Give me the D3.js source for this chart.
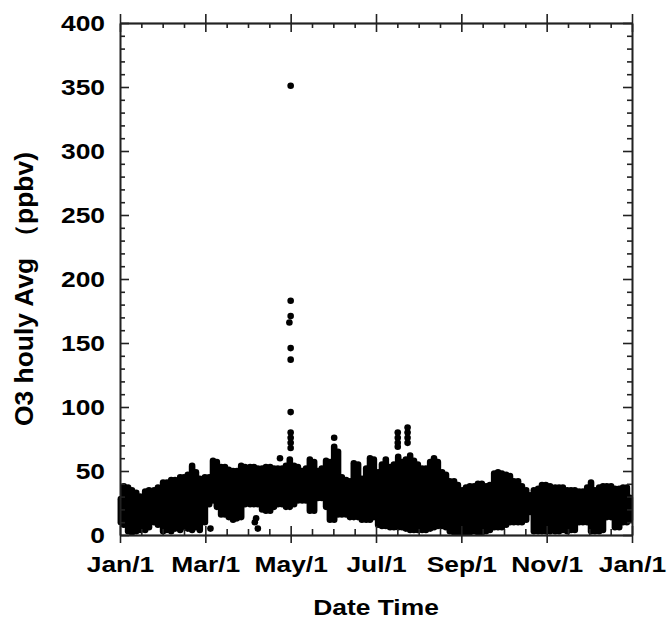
<!DOCTYPE html>
<html lang="en">
<head>
<meta charset="utf-8">
<title>O3 hourly</title>
<script src="https://d3js.org/d3.v7.min.js"></script>
<style>
  body { margin: 0; background: #fff; }
  svg text { font-family: "Liberation Sans", Arial, sans-serif; font-weight: bold; fill: #000; }
</style>
</head>
<body>
<script>
// month position (0 = Jan/1, 12 = next Jan/1) of each column of hourly points
const monthPos = [0.02, 0.09, 0.19, 0.28, 0.38, 0.47, 0.59, 0.68, 0.80, 0.89,
  1.01, 1.10, 1.20, 1.29, 1.41, 1.50, 1.59, 1.69, 1.78, 1.87,
  1.99, 2.09, 2.18, 2.27, 2.37, 2.46, 2.55, 2.65, 2.74, 2.84,
  2.93, 3.05, 3.14, 3.23, 3.33, 3.42, 3.52, 3.61, 3.70, 3.80,
  3.89, 3.98, 4.08, 4.17, 4.27, 4.36, 4.45, 4.55, 4.64, 4.73,
  4.83, 4.92, 5.02, 5.11, 5.20, 5.30, 5.39, 5.48, 5.58, 5.67,
  5.77, 5.86, 5.95, 6.05, 6.14, 6.23, 6.33, 6.42, 6.52, 6.61,
  6.70, 6.80, 6.89, 6.98, 7.08, 7.17, 7.27, 7.36, 7.45, 7.55,
  7.64, 7.73, 7.83, 7.92, 8.02, 8.11, 8.20, 8.30, 8.39, 8.48,
  8.58, 8.67, 8.77, 8.86, 8.95, 9.05, 9.14, 9.23, 9.33, 9.42,
  9.52, 9.61, 9.70, 9.80, 9.89, 9.98, 10.08, 10.20, 10.29, 10.38,
  10.48, 10.57, 10.66, 10.76, 10.85, 10.95, 11.04, 11.13, 11.23, 11.32,
  11.41, 11.51, 11.60, 11.70, 11.79, 11.88, 11.95]

// highest hourly value in each column (ppbv)
const o3High = [28, 38, 37, 35, 33, 30, 34, 35, 35, 37,
  41, 41, 43, 43, 45, 45, 47, 54, 49, 44,
  45, 45, 58, 57, 53, 53, 51, 50, 50, 54,
  53, 53, 53, 52, 52, 53, 53, 52, 52, 52,
  54, 59, 54, 53, 50, 52, 59, 57, 50, 52,
  58, 57, 69, 65, 45, 43, 42, 56, 55, 44,
  52, 60, 59, 49, 55, 59, 53, 55, 61, 57,
  59, 62, 58, 55, 52, 52, 57, 60, 57, 49,
  47, 42, 42, 39, 35, 37, 38, 38, 40, 40,
  38, 39, 48, 49, 48, 47, 46, 42, 42, 38,
  35, 31, 35, 36, 39, 39, 38, 37, 37, 37,
  35, 35, 35, 34, 34, 37, 41, 35, 37, 38,
  38, 38, 36, 36, 37, 37, 29]

// lowest hourly value in each column (ppbv)
const o3Low = [10, 8, 3, 2, 3, 4, 4, 6, 10, 8,
  3, 4, 3, 5, 4, 6, 5, 4, 6, 4,
  10, 24, 27, 22, 16, 16, 14, 12, 13, 14,
  24, 24, 24, 24, 20, 19, 19, 22, 24, 24,
  22, 22, 24, 27, 27, 27, 19, 19, 29, 29,
  22, 12, 12, 16, 16, 16, 14, 14, 14, 12,
  12, 12, 14, 8, 7, 7, 6, 6, 6, 6,
  5, 4, 4, 4, 4, 4, 5, 6, 7, 7,
  6, 3, 2, 2, 2, 2, 2, 3, 2, 2,
  3, 4, 6, 6, 6, 8, 10, 10, 10, 10,
  12, 18, 3, 3, 3, 3, 3, 3, 3, 4,
  3, 4, 4, 10, 10, 10, 3, 3, 3, 4,
  14, 14, 6, 6, 10, 10, 12]

// isolated points standing apart from the cloud
const extraMonth = [4.00, 4.00, 4.00, 3.97, 4.00, 4.00, 4.00, 4.00, 4.00, 4.00, 4.00,
  3.75, 3.16, 3.23, 3.19, 2.12, 5.02,
  6.51, 6.51, 6.51, 6.51, 6.74, 6.74, 6.74, 6.74]
const extraO3 = [351, 183, 171, 166, 146, 137, 96, 80, 76, 72, 68,
  60, 10, 5, 13, 5, 76,
  80, 76, 72, 69, 84, 80, 76, 72]

const tickMonths = [0, 2, 4, 6, 8, 10, 12]
const tickLabels = ['Jan/1', 'Mar/1', 'May/1', 'Jul/1', 'Sep/1', 'Nov/1', 'Jan/1']
const minorMonths = d3.range(0, 12.01, 0.5).filter(d => d % 2 !== 0)
const yMajor = [0, 50, 100, 150, 200, 250, 300, 350, 400]
const yMinor = d3.range(0, 401, 10).filter(d => d % 50 !== 0)

const m = { left: 120, top: 23, right: 632, bottom: 535 }
const dotR = 3.3

const svg = d3.select('body').append('svg')
  .attr('width', 667)
  .attr('height', 623)

const x = d3.scaleLinear().domain([0, 12]).range([m.left, m.right])
const y = d3.scaleLinear().domain([0, 400]).range([m.bottom, m.top])

// dense hourly cloud: each column is a stack of touching dots
const cols = monthPos.map((d, i) => ({ t: d, lo: o3Low[i], hi: o3High[i] }))
svg.append('g')
  .selectAll('line')
  .data(cols)
  .enter()
  .append('line')
  .attr('x1', d => x(d.t))
  .attr('x2', d => x(d.t))
  .attr('y1', d => y(d.lo))
  .attr('y2', d => y(d.hi))
  .attr('stroke', '#000')
  .attr('stroke-width', dotR * 2)
  .attr('stroke-linecap', 'round')

svg.append('g')
  .selectAll('circle')
  .data(extraMonth)
  .enter()
  .append('circle')
  .attr('cx', d => x(d))
  .attr('cy', (d, i) => y(extraO3[i]))
  .attr('r', dotR)
  .attr('fill', '#000')

// axes
function styleAxis(g) {
  g.selectAll('path, line').attr('stroke', '#222').attr('stroke-width', 1.6)
  g.selectAll('text').attr('font-size', 22).attr('fill', '#000')
}

const labelFmt = (d, i) => tickLabels[i]

// bottom
svg.append('g').attr('transform', `translate(0,${m.bottom})`)
  .call(d3.axisBottom(x).tickValues(tickMonths).tickFormat(labelFmt)
    .tickSize(8).tickSizeOuter(0).tickPadding(13))
  .call(styleAxis)
  .call(g => g.selectAll('text').attr('transform', 'scale(1.2,1)'))
svg.append('g').attr('transform', `translate(0,${m.bottom})`)
  .call(d3.axisBottom(x).tickValues(tickMonths).tickFormat('').tickSize(-9).tickSizeOuter(0))
  .call(styleAxis)
svg.append('g').attr('transform', `translate(0,${m.bottom})`)
  .call(d3.axisBottom(x).tickValues(minorMonths).tickFormat('').tickSize(-6).tickSizeOuter(0))
  .call(styleAxis)

// top
svg.append('g').attr('transform', `translate(0,${m.top})`)
  .call(d3.axisTop(x).tickValues(tickMonths).tickFormat('').tickSize(9).tickSizeOuter(0))
  .call(styleAxis)
svg.append('g').attr('transform', `translate(0,${m.top})`)
  .call(d3.axisTop(x).tickValues(tickMonths).tickFormat('').tickSize(-9).tickSizeOuter(0))
  .call(styleAxis)
svg.append('g').attr('transform', `translate(0,${m.top})`)
  .call(d3.axisTop(x).tickValues(minorMonths).tickFormat('').tickSize(-5).tickSizeOuter(0))
  .call(styleAxis)

// left
svg.append('g').attr('transform', `translate(${m.left},0)`)
  .call(d3.axisLeft(y).tickValues(yMajor).tickSize(-9).tickSizeOuter(0).tickPadding(12.5))
  .call(styleAxis)
  .call(g => g.selectAll('text').attr('transform', 'scale(1.2,1)'))
svg.append('g').attr('transform', `translate(${m.left},0)`)
  .call(d3.axisLeft(y).tickValues(yMinor).tickFormat('').tickSize(-5).tickSizeOuter(0))
  .call(styleAxis)

// right
svg.append('g').attr('transform', `translate(${m.right},0)`)
  .call(d3.axisRight(y).tickValues(yMajor).tickFormat('').tickSize(-9).tickSizeOuter(0))
  .call(styleAxis)
svg.append('g').attr('transform', `translate(${m.right},0)`)
  .call(d3.axisRight(y).tickValues(yMinor).tickFormat('').tickSize(-5).tickSizeOuter(0))
  .call(styleAxis)

// titles
svg.append('text')
  .attr('transform', `translate(${(m.left + m.right) / 2},615) scale(1.2,1)`)
  .attr('text-anchor', 'middle')
  .attr('font-size', 22)
  .text('Date Time')

svg.append('text')
  .attr('transform', 'translate(33,289) rotate(-90) scale(1.1,1.05)')
  .attr('text-anchor', 'middle')
  .attr('font-size', 24)
  .text('O3 houly Avg （ppbv)')
</script>
</body>
</html>
